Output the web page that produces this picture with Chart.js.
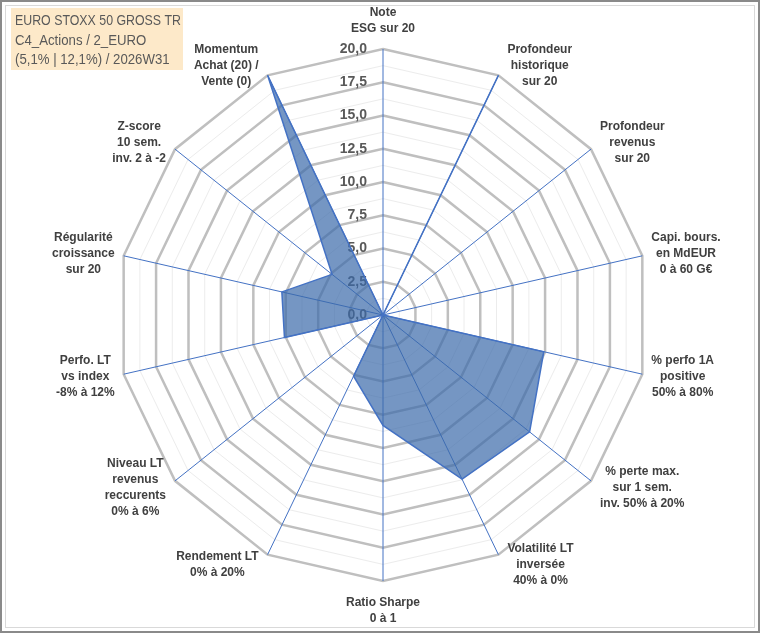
<!DOCTYPE html>
<html>
<head>
<meta charset="utf-8">
<script src="https://cdn.jsdelivr.net/npm/chart.js@4.4.1/dist/chart.umd.min.js"></script>
<style>
html,body{margin:0;padding:0;background:#fff;}
#wrap{width:760px;height:633px;position:relative;}
</style>
</head>
<body>
<div id="wrap"><canvas id="c" width="760" height="633"></canvas></div>
<script>
// ---- data ----
const categories = [
  ["Note", "ESG sur 20"],
  ["Profondeur", "historique", "sur 20"],
  ["Profondeur", "revenus", "sur 20"],
  ["Capi. bours.", "en MdEUR", "0 à 60 G€"],
  ["% perfo 1A", "positive", "50% à 80%"],
  ["% perte max.", "sur 1 sem.", "inv. 50% à 20%"],
  ["Volatilité LT", "inversée", "40% à 0%"],
  ["Ratio Sharpe", "0 à 1"],
  ["Rendement LT", "0% à 20%"],
  ["Niveau LT", "revenus", "reccurents", "0% à 6%"],
  ["Perfo. LT", "vs index", "-8% à 12%"],
  ["Régularité", "croissance", "sur 20"],
  ["Z-score", "10 sem.", "inv. 2 à -2"],
  ["Momentum", "Achat (20) /", "Vente (0)"]
];
const seriesValues = [0, 20, 0, 0, 12.4, 14.1, 13.7, 8.3, 5.1, 0, 7.6, 7.8, 4.9, 20];
const tickLabels = ["0,0", "2,5", "5,0", "7,5", "10,0", "12,5", "15,0", "17,5", "20,0"];
const tickValues = [0, 2.5, 5, 7.5, 10, 12.5, 15, 17.5, 20];
const titleLines = ["EURO STOXX 50 GROSS TR", "C4_Actions / 2_EURO", "(5,1% | 12,1%) / 2026W31"];

// ---- plugins ----
const framePlugin = {
  id: 'frame',
  beforeDraw(chart) {
    const ctx = chart.ctx;
    ctx.save();
    ctx.fillStyle = '#ffffff';
    ctx.fillRect(0, 0, chart.width, chart.height);
    ctx.strokeStyle = '#d9d9d9';
    ctx.lineWidth = 1;
    ctx.strokeRect(5.5, 5.5, chart.width - 11, chart.height - 11);
    ctx.strokeStyle = '#8a8a8a';
    ctx.lineWidth = 2;
    ctx.strokeRect(1, 1, chart.width - 2, chart.height - 2);
    ctx.restore();
  },
  afterDraw(chart) {
    const ctx = chart.ctx;
    ctx.save();
    ctx.fillStyle = '#fde9c9';
    ctx.fillRect(11, 8, 172, 62);
    ctx.fillStyle = '#595959';
    ctx.font = '15px "Liberation Sans", Arial, sans-serif';
    ctx.textAlign = 'left';
    ctx.textBaseline = 'middle';
    const sx = 0.88;
    ctx.translate(15, 0);
    ctx.scale(sx, 1);
    titleLines.forEach((t, k) => ctx.fillText(t, 0, 21 + k * 19.5, 166 / sx));
    ctx.restore();
  }
};

const tickPlugin = {
  id: 'tickText',
  beforeDatasetsDraw(chart) {
    const s = chart.scales.r;
    const ctx = chart.ctx;
    ctx.save();
    ctx.fillStyle = '#595959';
    ctx.font = 'bold 14px "Liberation Sans", Arial, sans-serif';
    ctx.textAlign = 'right';
    ctx.textBaseline = 'middle';
    tickValues.forEach((v, k) => {
      const y = s.yCenter - s.getDistanceFromCenterForValue(v);
      ctx.fillText(tickLabels[k], s.xCenter - 16, y);
    });
    ctx.restore();
  }
};

const pointLabelPlugin = {
  id: 'pointText',
  afterDatasetsDraw(chart) {
    const s = chart.scales.r;
    const ctx = chart.ctx;
    const n = categories.length;
    const lh = 16;
    ctx.save();
    ctx.fillStyle = '#404040';
    ctx.font = 'bold 12px "Liberation Sans", Arial, sans-serif';
    ctx.textAlign = 'center';
    ctx.textBaseline = 'middle';
    categories.forEach((lines, i) => {
      const p = s.getPointPosition(i, s.drawingArea);
      const th = i * 2 * Math.PI / n;
      const sn = Math.sin(th), cs = Math.cos(th);
      const w = Math.max(...lines.map(t => ctx.measureText(t).width));
      const h = lines.length * lh;
      let cx, cy;
      if (Math.abs(sn) < 0.05) {
        cx = p.x;
        cy = cs > 0 ? p.y - 12 - h / 2 : p.y + 14 + h / 2;
      } else {
        cx = p.x + Math.sign(sn) * (w / 2 + 9);
        cy = p.y - 11 * cs;
      }
      lines.forEach((t, k) => ctx.fillText(t, cx, cy - h / 2 + lh / 2 + k * lh));
    });
    ctx.restore();
  }
};

new Chart(document.getElementById('c'), {
  type: 'radar',
  data: {
    labels: categories,
    datasets: [{
      data: seriesValues,
      fill: true,
      backgroundColor: 'rgba(58,105,170,0.7)',
      borderColor: '#4472c4',
      borderWidth: 1.5,
      pointRadius: 0,
      pointHoverRadius: 0,
      tension: 0
    }]
  },
  options: {
    responsive: false,
    animation: false,
    devicePixelRatio: 1,
    layout: { padding: { left: 117, top: 49, right: 111, bottom: 52 } },
    plugins: { legend: { display: false }, tooltip: { enabled: false } },
    scales: {
      r: {
        min: 0,
        max: 20,
        ticks: { stepSize: 1.25, display: false },
        grid: {
          color: c => (Math.abs(c.tick.value / 2.5 - Math.round(c.tick.value / 2.5)) < 1e-6) ? '#bfbfbf' : '#ececec',
          lineWidth: c => (Math.abs(c.tick.value / 2.5 - Math.round(c.tick.value / 2.5)) < 1e-6) ? 2.5 : 1
        },
        angleLines: { color: '#4472c4', lineWidth: 1 },
        pointLabels: { display: false }
      }
    }
  },
  plugins: [framePlugin, tickPlugin, pointLabelPlugin]
});
</script>
</body>
</html>
